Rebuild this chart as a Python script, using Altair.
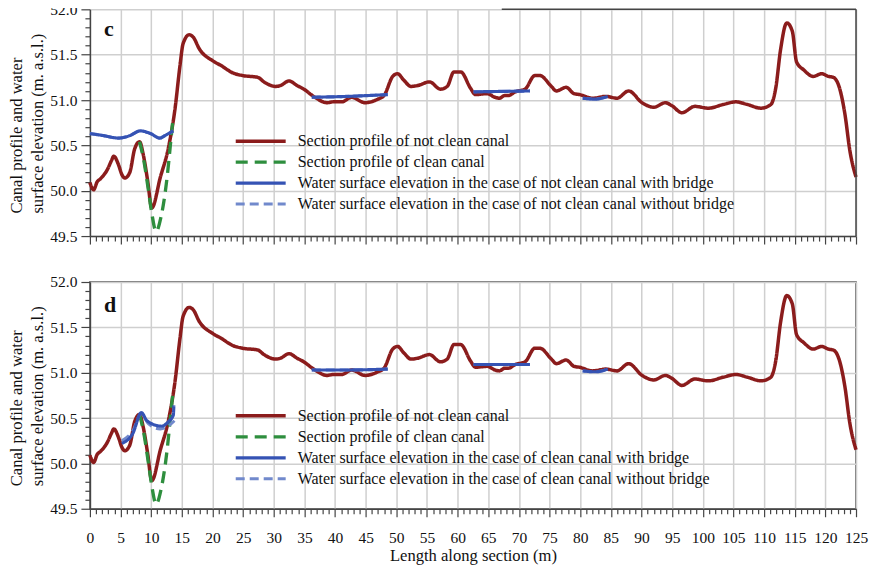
import altair as alt
import pandas as pd

FONT = "Liberation Serif"

# ---------------- data ----------------
profile_x = [0, 0.6, 1.2, 1.7, 2.9, 3.5, 3.9, 4.7, 5.2, 5.7, 6.5, 7.3, 8.1, 8.7, 9.4, 10.1, 11.5, 12.8,
             13.9, 14.7, 15.2, 16.2, 16.9, 17.8, 20.1, 21.4, 23.3, 24.9, 27.4, 28.4, 30.3, 31.1, 32.5,
             33.8, 34.9, 36.5, 38.7, 39.7, 41.1, 42.7, 44.9, 47.0, 48.0, 49.4, 50.2, 51.2, 52.4, 53.5,
             55.4, 57.2, 58.3, 59.4, 60.5, 62.1, 62.9, 64.8, 66.1, 66.8, 67.7, 68.3, 69.4, 71.0, 72.6,
             73.4, 75.3, 76.1, 77.7, 79.0, 79.9, 82.0, 84.2, 86.0, 87.9, 90.1, 92.0, 93.9, 94.9, 96.6,
             98.7, 100.9, 103.3, 105.4, 107.3, 109.5, 111.1, 111.9, 112.7, 113.7, 114.6, 115.3, 116.5,
             118.0, 119.4, 120.5, 121.3, 122.4, 123.2, 124.0, 125.0]
profile_y = [50.09, 50.01, 50.10, 50.13, 50.24, 50.33, 50.38, 50.28, 50.18, 50.14, 50.20, 50.46, 50.54,
             50.40, 50.12, 49.81, 50.15, 50.47, 50.91, 51.38, 51.62, 51.72, 51.69, 51.57, 51.43, 51.38,
             51.30, 51.27, 51.25, 51.20, 51.15, 51.16, 51.21, 51.16, 51.12, 51.04, 50.97, 50.98, 50.98,
             51.03, 50.97, 51.01, 51.05, 51.26, 51.29, 51.22, 51.15, 51.16, 51.20, 51.12, 51.15, 51.31,
             51.31, 51.13, 51.06, 51.07, 51.03, 51.02, 51.05, 51.05, 51.09, 51.12, 51.27, 51.27, 51.15,
             51.10, 51.14, 51.07, 51.06, 51.02, 51.04, 51.02, 51.10, 50.97, 50.92, 50.97, 50.94, 50.86,
             50.93, 50.91, 50.95, 50.98, 50.95, 50.91, 50.95, 51.13, 51.56, 51.85, 51.76, 51.42, 51.33,
             51.26, 51.29, 51.26, 51.25, 51.11, 50.84, 50.44, 50.15]

clean_x = [8.1, 8.8, 9.6, 10.1, 10.8, 11.6, 12.6, 13.2, 13.6]
clean_y = [50.54, 50.33, 49.98, 49.75, 49.55, 49.71, 50.15, 50.55, 50.82]

# panel c water surface (not clean canal) - segments
c_bridge_x = [0, 2.0, 4.7, 6.6, 8.2, 9.9, 11.4, 12.3, 13.6, 36.2, 42.0, 48.6, 62.6, 71.8, 80.4, 82.5, 84.5]
c_bridge_y = [50.63, 50.61, 50.58, 50.61, 50.66, 50.63, 50.58, 50.61, 50.66, 51.03, 51.04, 51.06,
              51.09, 51.10, 51.02, 51.01, 51.04]
c_bridge_seg = [1, 1, 1, 1, 1, 1, 1, 1, 1, 2, 2, 2, 3, 3, 4, 4, 4]
c_nobridge_x = [0, 2.0, 4.7, 6.6, 8.2, 9.9, 11.4, 12.3, 13.6, 36.2, 42.0, 48.6, 62.6, 71.8, 80.4, 82.5, 84.5]
c_nobridge_y = [50.63, 50.61, 50.58, 50.61, 50.66, 50.63, 50.58, 50.61, 50.66, 51.03, 51.04, 51.06,
                51.09, 51.10, 51.02, 51.01, 51.04]
c_nobridge_seg = [1, 1, 1, 1, 1, 1, 1, 1, 1, 2, 2, 2, 3, 3, 4, 4, 4]

# panel d water surface (clean canal) - segments
d_bridge_x = [5.2, 7.0, 8.4, 9.3, 11.7, 12.8, 13.6, 13.7, 36.2, 42.0, 48.6, 62.6, 71.8, 80.4, 82.5, 84.5]
d_bridge_y = [50.22, 50.33, 50.56, 50.47, 50.41, 50.46, 50.53, 50.64, 51.03, 51.03, 51.04,
              51.09, 51.09, 51.02, 51.01, 51.04]
d_bridge_seg = [1, 1, 1, 1, 1, 1, 1, 1, 2, 2, 2, 3, 3, 4, 4, 4]
d_nobridge_x = [5.2, 7.0, 8.4, 9.5, 11.5, 12.5, 13.8, 36.2, 42.0, 48.6, 62.6, 71.8, 80.4, 82.5, 84.5]
d_nobridge_y = [50.25, 50.36, 50.55, 50.44, 50.38, 50.40, 50.47, 51.03, 51.03, 51.04,
                51.09, 51.09, 51.02, 51.01, 51.04]
d_nobridge_seg = [1, 1, 1, 1, 1, 1, 1, 2, 2, 2, 3, 3, 4, 4, 4]

S_PROFILE = "Section profile of not clean canal"
S_CLEAN = "Section profile of clean canal"
C_B = "Water surface elevation in the case of not clean canal with bridge"
C_NB = "Water surface elevation in the case of not clean canal without bridge"
D_B = "Water surface elevation in the case of clean canal with bridge"
D_NB = "Water surface elevation in the case of clean canal without bridge"

y_ticks = [round(49.5 + 0.1 * i, 1) for i in range(26)]
x_ticks = list(range(0, 126))

COLORS = ["#8b1c1c", "#2e8e3e", "#3553b4", "#7189cc"]
WIDTHS = [3.5, 3.0, 1.6, 1.2]
DASHES = [[1, 0], [12, 7], [1, 0], [9, 5]]

W, H = 767, 227

Y_MAJOR = "abs(datum.value*2 - round(datum.value*2)) < 0.01"
X_MAJOR = "datum.value % 5 == 0"


def make_df(xs, ys, segs, name):
    return pd.DataFrame({"x": xs, "y": ys, "seg": segs, "series": [name] * len(xs)})


def panel(letter, bx, by, bseg, nbx, nby, nbseg, name_b, name_nb, last, legend_y, letter_y):
    domain = [S_PROFILE, S_CLEAN, name_b, name_nb]
    yaxis = alt.Axis(
        values=y_ticks,
        labelExpr=f"{Y_MAJOR} ? format(datum.value, '.1f') : ''",
        tickSize={"condition": {"test": Y_MAJOR, "value": 9}, "value": 5},
        gridOpacity={"condition": {"test": Y_MAJOR, "value": 1}, "value": 0},
        gridColor="#cfcfcf", gridWidth=1.5,
        domainColor="#444444", domainWidth=1.5, tickColor="#444444", tickWidth=1.2,
        labelFont=FONT, labelFontSize=15.5, labelColor="#111111", labelPadding=4,
        labelOverlap=False, labelFlush=False,
        title=["Canal profile and water", "surface elevation (m. a.s.l.)"],
        titleFont=FONT, titleFontSize=16.6, titleFontWeight="normal", titleColor="#111111",
        titleAngle=270, titleAlign="left", titleBaseline="top",
        titleX=-81, titleY=204, titleLineHeight=21,
    )
    if last:
        xaxis = alt.Axis(
            values=x_ticks,
            labelExpr=f"{X_MAJOR} ? datum.label : ''",
            tickSize={"condition": {"test": X_MAJOR, "value": 8}, "value": 5},
            gridOpacity={"condition": {"test": X_MAJOR, "value": 1}, "value": 0},
            gridColor="#cfcfcf", gridWidth=1.5,
            domainColor="#444444", domainWidth=1.5, tickColor="#444444", tickWidth=1.2,
            labelFont=FONT, labelFontSize=15.5, labelColor="#111111", labelPadding=14,
            labelOverlap=False, labelAngle=0, labelFlush=False,
            title="Length along section (m)",
            titleFont=FONT, titleFontSize=16.6, titleFontWeight="normal", titleColor="#111111",
            titlePadding=1,
        )
    else:
        xaxis = alt.Axis(
            values=x_ticks, labels=False, title=None,
            tickSize={"condition": {"test": X_MAJOR, "value": 8}, "value": 5},
            gridOpacity={"condition": {"test": X_MAJOR, "value": 1}, "value": 0},
            gridColor="#cfcfcf", gridWidth=1.5,
            domainColor="#444444", domainWidth=1.5, tickColor="#444444", tickWidth=1.2,
        )
    xs = alt.Scale(domain=[0, 125], nice=False, zero=False)
    ys = alt.Scale(domain=[49.5, 52.0], nice=False, zero=False)
    color = alt.Color(
        "series:N",
        scale=alt.Scale(domain=domain, range=COLORS),
        legend=alt.Legend(
            orient="none", legendX=163, legendY=legend_y, title=None,
            symbolType="M-5,0H5", symbolSize=100, labelOffset=29,
            labelFont=FONT, labelFontSize=16, labelColor="#111111",
            rowPadding=5, padding=0, labelLimit=0,
        ),
    )
    sdash = alt.StrokeDash("series:N", scale=alt.Scale(domain=domain, range=DASHES))
    swidth = alt.StrokeWidth("series:N", scale=alt.Scale(domain=domain, range=WIDTHS))

    def line(df):
        return alt.Chart(df).mark_line(strokeCap="butt", interpolate="monotone").encode(
            x=alt.X("x:Q", scale=xs, axis=xaxis),
            y=alt.Y("y:Q", scale=ys, axis=yaxis),
            color=color, strokeDash=sdash, strokeWidth=swidth,
            detail="seg:N", order=alt.Order("x:Q"),
        )

    prof = line(make_df(profile_x, profile_y, [1] * len(profile_x), S_PROFILE))
    clean = line(make_df(clean_x, clean_y, [1] * len(clean_x), S_CLEAN))
    wnb = line(make_df(nbx, nby, nbseg, name_nb))
    wb = line(make_df(bx, by, bseg, name_b))

    label = alt.Chart(pd.DataFrame({"t": [letter]})).mark_text(
        font=FONT, fontSize=22, fontWeight="bold", align="left", baseline="alphabetic", color="#111111"
    ).encode(x=alt.value(14), y=alt.value(letter_y), text="t:N")

    layers = [prof, clean, wnb, wb, label]
    if not last:
        frame = pd.DataFrame({"x": [125.0, 67.2], "x2": [125.0, 125.0], "y": [49.5, 52.0], "y2": [52.0, 52.0]})
        rules = alt.Chart(frame).mark_rule(color="#444444", strokeWidth=1.5).encode(
            x=alt.X("x:Q", scale=xs, axis=xaxis), x2="x2:Q",
            y=alt.Y("y:Q", scale=ys, axis=yaxis), y2="y2:Q"
        )
        layers.append(rules)
        view = alt.ViewBackground(stroke=None)
    else:
        view = alt.ViewBackground(stroke="#444444", strokeWidth=1.5)
    return alt.layer(*layers).properties(width=W, height=H, view=view)


top = panel("c", c_bridge_x, c_bridge_y, c_bridge_seg, c_nobridge_x, c_nobridge_y, c_nobridge_seg,
            C_B, C_NB, False, 124, 27)
bottom = panel("d", d_bridge_x, d_bridge_y, d_bridge_seg, d_nobridge_x, d_nobridge_y, d_nobridge_seg,
               D_B, D_NB, True, 126, 30)

chart = alt.vconcat(top, bottom, spacing=29).resolve_scale(
    color="independent", strokeDash="independent", strokeWidth="independent"
).resolve_legend(
    color="independent", strokeDash="independent", strokeWidth="independent"
).properties(
    padding={"top": -6, "left": 0, "right": 0, "bottom": 0}
).configure(background="white")

chart.save("out.html", embed_options={"renderer": "svg", "actions": False})
